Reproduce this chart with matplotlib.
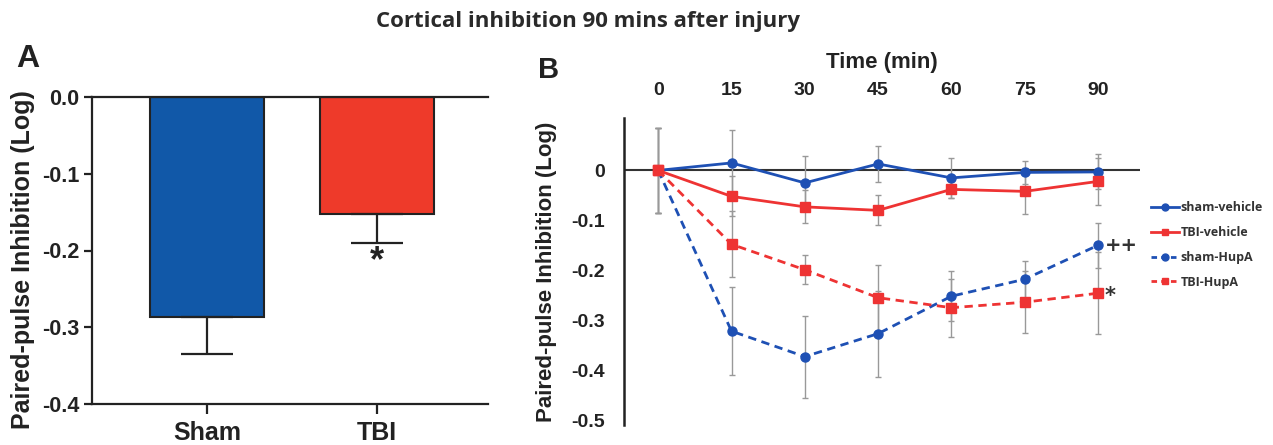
import matplotlib
matplotlib.use("Agg")
import matplotlib.pyplot as plt
from matplotlib.lines import Line2D

# ---------------- data ----------------
# Panel A
groups = ["Sham", "TBI"]
bar_means = [-0.287, -0.153]
bar_errs = [0.048, 0.037]

# Panel B
times = [0, 15, 30, 45, 60, 75, 90]
sham_vehicle = [0.0, 0.015, -0.025, 0.013, -0.015, -0.004, -0.003]
sham_vehicle_err = [0.085, 0.065, 0.053, 0.036, 0.040, 0.023, 0.035]
tbi_vehicle = [0.0, -0.052, -0.073, -0.080, -0.038, -0.042, -0.022]
tbi_vehicle_err = [0.085, 0.040, 0.033, 0.030, 0.018, 0.046, 0.047]
sham_hupa = [0.0, -0.322, -0.373, -0.327, -0.252, -0.218, -0.150]
sham_hupa_err = [0.085, 0.088, 0.082, 0.086, 0.050, 0.037, 0.045]
tbi_hupa = [0.0, -0.148, -0.199, -0.255, -0.275, -0.264, -0.246]
tbi_hupa_err = [0.085, 0.066, 0.029, 0.066, 0.058, 0.062, 0.082]
series_labels = ["sham-vehicle", "TBI-vehicle", "sham-HupA", "TBI-HupA"]
xticks_b = [0, 15, 30, 45, 60, 75, 90]
yticks_b = [0, -0.1, -0.2, -0.3, -0.4, -0.5]
yticklabels_b = ["0", "-0.1", "-0.2", "-0.3", "-0.4", "-0.5"]

BLUE_BAR = "#1158A8"
RED_BAR = "#EE3A2A"
BLUE = "#1E50B4"
RED = "#EE3333"
NARROW = ["Liberation Sans Narrow", "Liberation Sans"]

W, H = 1273, 445
fig = plt.figure(figsize=(W / 100, H / 100), dpi=100)

def fx(px):
    return px / W

def fy(py):
    return 1 - py / H

# ---------------- Panel A ----------------
axA = fig.add_axes([fx(92), fy(404), fx(488) - fx(92), fy(97) - fy(404)])
xpos = [0, 1]
axA.bar(xpos, bar_means, width=0.67, color=[BLUE_BAR, RED_BAR],
        edgecolor="#222222", linewidth=1.5, zorder=2)
for x, m, e in zip(xpos, bar_means, bar_errs):
    axA.errorbar([x], [m], yerr=[[e], [0]], fmt="none", ecolor="#222222",
                 elinewidth=1.6, capsize=19, capthick=1.6, zorder=3)
axA.set_xlim(-0.676, 1.653)
axA.set_ylim(-0.4, 0.0)
axA.set_yticks([0.0, -0.1, -0.2, -0.3, -0.4])
axA.set_yticklabels(["0.0", "-0.1", "-0.2", "-0.3", "-0.4"])
axA.set_xticks(xpos)
axA.set_xticklabels(groups)
axA.spines["right"].set_visible(False)
for s in ["left", "bottom", "top"]:
    axA.spines[s].set_linewidth(1.6)
    axA.spines[s].set_color("#222222")
axA.tick_params(axis="y", width=1.6, length=6, color="#222222",
                labelsize=15.5, pad=3)
axA.tick_params(axis="x", width=1.6, length=7, color="#222222",
                labelsize=18, pad=5)
for lab in axA.get_xticklabels() + axA.get_yticklabels():
    lab.set_fontweight("bold")
    lab.set_family("Liberation Sans")
    lab.set_color("#222222")
axA.set_ylabel("Paired-pulse Inhibition (Log)", fontsize=18, fontweight="bold",
               family="Liberation Sans", color="#222222", labelpad=4)
axA.yaxis.set_label_coords(-0.145, 0.47)
axA.text(1, -0.215, "*", fontsize=26, fontweight="bold", ha="center",
         va="center", color="#222222", family="Liberation Sans")

fig.text(fx(16), fy(59), "A", fontsize=23, fontweight="bold",
         family="Liberation Sans", color="#222222", va="center")

# ---------------- Panel B ----------------
axB = fig.add_axes([fx(624), fy(425), fx(1140) - fx(624), fy(118) - fy(425)])
axB.axhline(0, color="#333333", lw=1.5, zorder=1)

eb_kw = dict(fmt="none", ecolor="#999999", elinewidth=1.0, capsize=2,
             capthick=1.0, zorder=2)
axB.errorbar(times, sham_vehicle, yerr=sham_vehicle_err, **eb_kw)
axB.errorbar(times, tbi_vehicle, yerr=tbi_vehicle_err, **eb_kw)
axB.errorbar(times, sham_hupa, yerr=sham_hupa_err, **eb_kw)
axB.errorbar(times, tbi_hupa, yerr=tbi_hupa_err, **eb_kw)

axB.plot(times, sham_vehicle, color=BLUE, lw=2.0, marker="o", ms=6.5, zorder=4)
axB.plot(times, tbi_vehicle, color=RED, lw=2.0, marker="s", ms=6.5, zorder=4)
axB.plot(times, sham_hupa, color=BLUE, lw=2.0, ls=(0, (3, 2)),
         marker="o", ms=6.5, zorder=4)
axB.plot(times, tbi_hupa, color=RED, lw=2.0, ls=(0, (3, 2)),
         marker="s", ms=6.5, zorder=4)

axB.set_xlim(-7, 98.6)
axB.set_ylim(-0.51, 0.105)
axB.xaxis.tick_top()
axB.set_xticks(xticks_b)
axB.set_xticklabels([str(t) for t in xticks_b])
axB.set_yticks(yticks_b)
axB.set_yticklabels(yticklabels_b)
axB.tick_params(axis="x", length=0, pad=14, labelsize=14)
axB.tick_params(axis="y", length=0, pad=14, labelsize=14)
for lab in axB.get_xticklabels() + axB.get_yticklabels():
    lab.set_fontweight("bold")
    lab.set_family(NARROW)
    lab.set_color("#222222")
for s in ["right", "top", "bottom"]:
    axB.spines[s].set_visible(False)
axB.spines["left"].set_linewidth(1.8)
axB.spines["left"].set_color("#222222")
axB.xaxis.set_label_position("top")
axB.set_xlabel("Time (min)", fontsize=16, fontweight="bold",
               family=NARROW, color="#222222", labelpad=10)
axB.set_ylabel("Paired-pulse Inhibition (Log)", fontsize=16, fontweight="bold",
               family="Liberation Sans", color="#222222", labelpad=10)

axB.annotate("++", (times[-1], sham_hupa[-1]), xytext=(5, 0),
             textcoords="offset points", va="center", ha="left",
             fontsize=14, fontweight="bold", color="#333333")
axB.annotate("*", (times[-1], tbi_hupa[-1]), xytext=(5, -2),
             textcoords="offset points", va="center", ha="left",
             fontsize=15, fontweight="bold", color="#333333")

handles = [
    Line2D([], [], color=BLUE, lw=2, marker="o", ms=5),
    Line2D([], [], color=RED, lw=2, marker="s", ms=5),
    Line2D([], [], color=BLUE, lw=2, ls=(0, (2, 1.5)), marker="o", ms=5),
    Line2D([], [], color=RED, lw=2, ls=(0, (2, 1.5)), marker="s", ms=5),
]
leg = fig.legend(handles, series_labels, loc="center left",
                 bbox_to_anchor=(fx(1146), fy(245)), frameon=False,
                 prop={"family": "Open Sans", "weight": "bold", "size": 9},
                 handlelength=2.2, handletextpad=0.15, labelspacing=0.95,
                 borderaxespad=0)
for t in leg.get_texts():
    t.set_color("#333333")

fig.text(fx(588), fy(22), "Cortical inhibition 90 mins after injury",
         ha="center", va="center", fontsize=16, fontweight="bold",
         family="Open Sans", color="#2a2a2a")
fig.text(fx(538), fy(70), "B", fontsize=21, fontweight="bold",
         family="Liberation Sans", color="#222222", va="center")

fig.savefig("out.png", dpi=100)
